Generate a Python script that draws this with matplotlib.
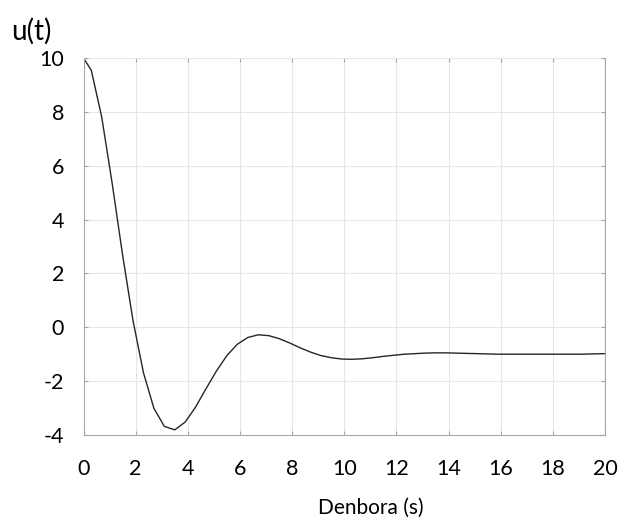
import matplotlib.pyplot as plt

plt.rcParams['font.family'] = ['Lato', 'DejaVu Sans']
plt.rcParams['axes.unicode_minus'] = False

# time samples (s) and response u(t)
t = [0.0, 0.3, 0.7, 1.1, 1.5, 1.9, 2.3, 2.7, 3.1, 3.5, 3.9, 4.3, 4.7, 5.1,
     5.5, 5.9, 6.3, 6.7, 7.1, 7.5, 7.9, 8.3, 8.7, 9.1, 9.5, 9.9, 10.3, 10.7,
     11.1, 11.5, 11.9, 12.3, 12.7, 13.1, 13.5, 13.9, 14.3, 14.7, 15.1, 15.5,
     15.9, 16.3, 16.7, 17.1, 17.5, 17.9, 18.3, 18.7, 19.1, 19.5, 20.0]
u = [10.0, 9.54, 7.80, 5.34, 2.68, 0.24, -1.69, -3.01, -3.68, -3.81, -3.52,
     -2.96, -2.28, -1.62, -1.05, -0.63, -0.38, -0.28, -0.31, -0.42, -0.58,
     -0.76, -0.92, -1.05, -1.13, -1.18, -1.19, -1.17, -1.13, -1.08, -1.04,
     -1.00, -0.98, -0.96, -0.95, -0.95, -0.96, -0.97, -0.98, -0.99, -1.00,
     -1.00, -1.00, -1.00, -1.00, -1.00, -1.00, -1.00, -1.00, -0.99, -0.98]

xticks = list(range(0, 21, 2))
yticks = list(range(-4, 11, 2))

fig = plt.figure(figsize=(6.25, 5.2), dpi=100)
ax = fig.add_axes([0.1336, 0.1635, 0.8344, 0.725])

ax.plot(t, u, color="#262626", linewidth=1.0)

ax.set_xlim(0, 20)
ax.set_ylim(-4, 10)
ax.set_xticks(xticks)
ax.set_yticks(yticks)
ax.set_xticklabels([str(v) for v in xticks])
ax.set_yticklabels([str(v) for v in yticks])
ax.grid(True, color="#e6e6e6", linewidth=0.8)
ax.set_axisbelow(True)

for side in ["left", "bottom", "right"]:
    ax.spines[side].set_color("#a6a6a6")
    ax.spines[side].set_linewidth(0.8)
ax.spines["top"].set_visible(False)

ax.tick_params(axis="both", which="both", direction="in", length=3,
               color="#a6a6a6", labelsize=15.5, top=True, right=True)
ax.tick_params(axis="x", pad=17)
ax.tick_params(axis="y", pad=14)

fig.text(0.018, 0.94, "u(t)", fontsize=20, ha="left", va="center")
fig.text(0.593, 0.012, "Denbora (s)", fontsize=15, ha="center", va="baseline")

fig.savefig("out.png", dpi=100)
